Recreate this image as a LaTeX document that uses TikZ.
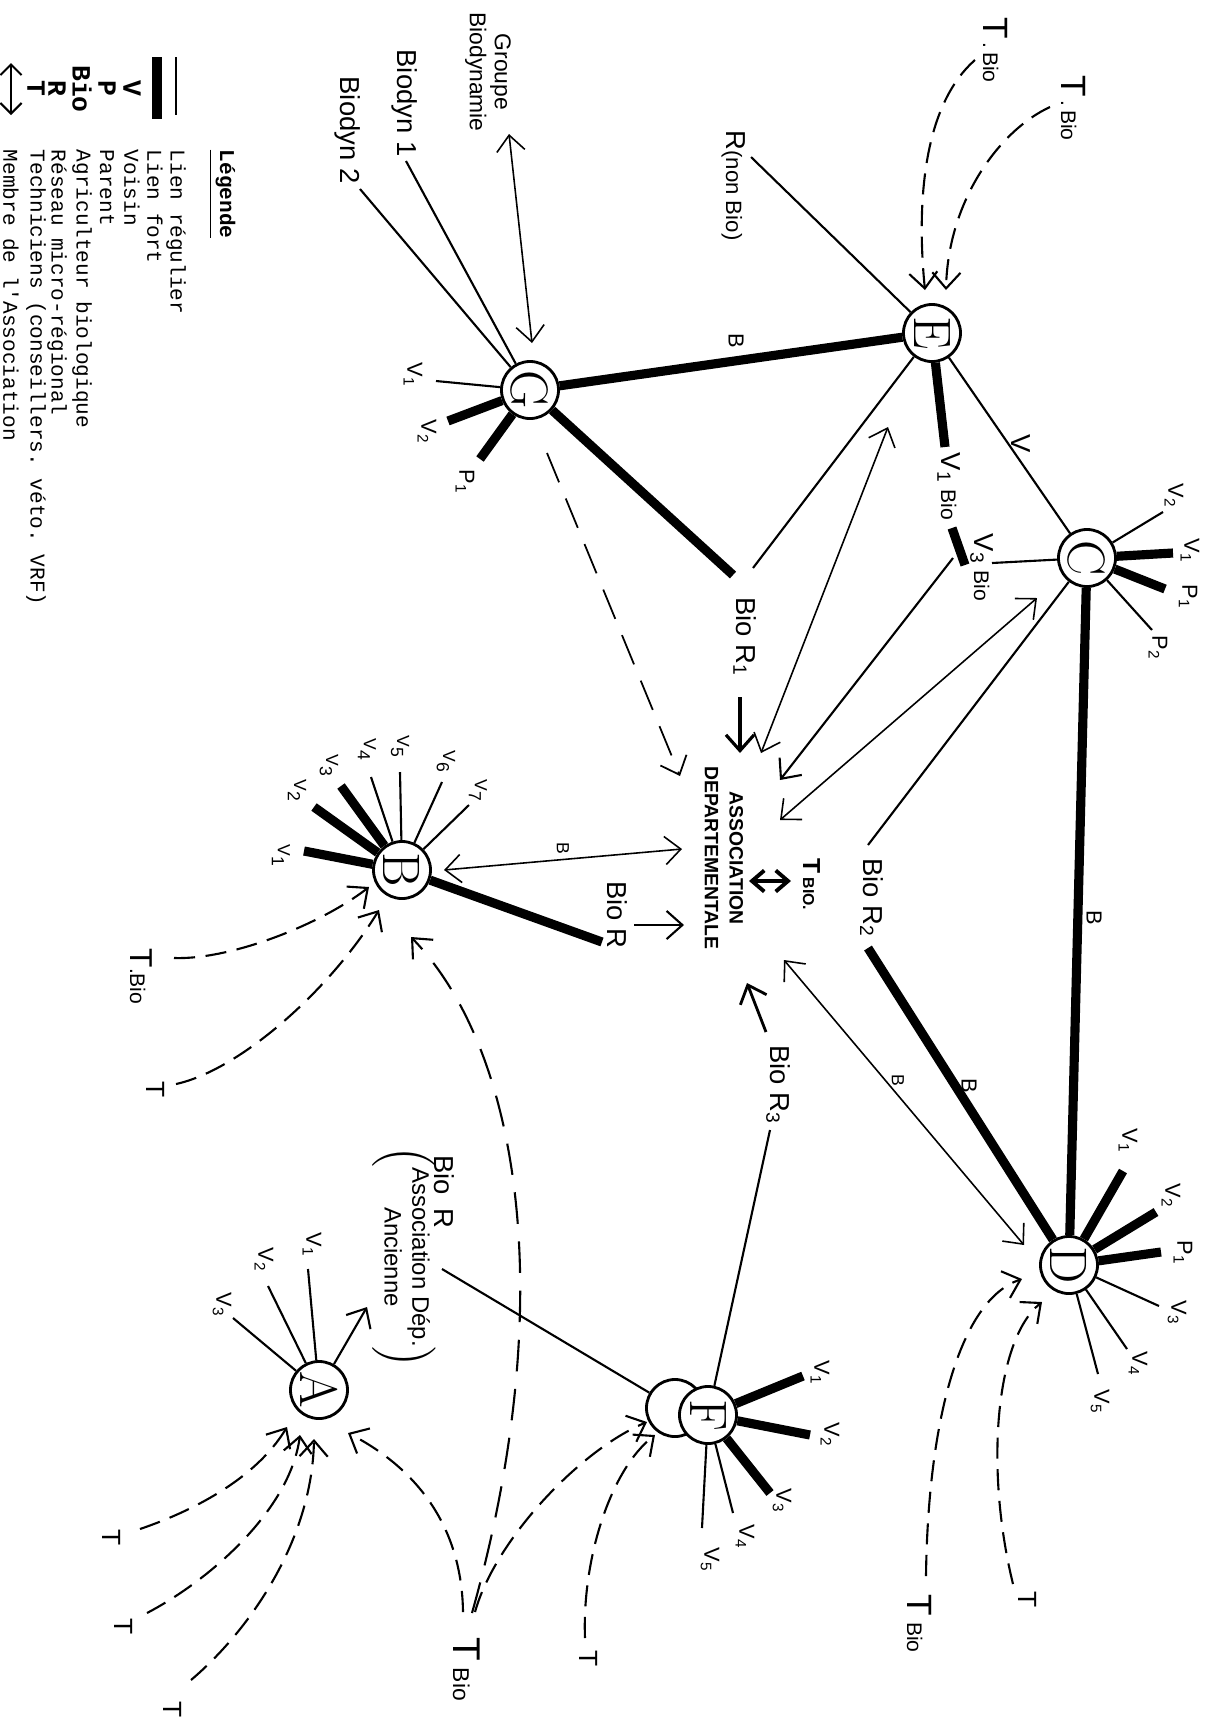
\documentclass[tikz,border=0pt]{standalone}
\usepackage{fontspec}
\setsansfont{Liberation Sans}
\setmonofont{Liberation Mono}
\usetikzlibrary{positioning, arrows.meta}

\tikzset{
  ferme/.style={circle, draw, fill=white, line width=0.8pt, minimum size=0.57cm,
    inner sep=0pt, font=\fontsize{15}{15}\selectfont, rotate=-90},
  etiq/.style={font=\sffamily\fontsize{7.8}{8.5}\selectfont, rotate=-90, inner sep=0pt},
  moyen/.style={font=\sffamily\fontsize{6.2}{7}\selectfont, rotate=-90, inner sep=0pt},
  petit/.style={font=\sffamily\fontsize{5}{6}\selectfont, rotate=-90, inner sep=0pt},
  tlab/.style={font=\sffamily\fontsize{7.5}{8}\selectfont, rotate=-90, inner sep=0pt},
  tgrand/.style={font=\sffamily\fontsize{10}{10}\selectfont, rotate=-90, inner sep=0pt, anchor=base west},
  legende/.style={font=\ttfamily\fontsize{6}{6}\selectfont, rotate=-90, inner sep=0pt, anchor=west},
  legsym/.style={font=\ttfamily\bfseries\fontsize{7.5}{7.5}\selectfont, rotate=-90, inner sep=0pt},
  lienreg/.style={line width=0.6pt},
  lienfort/.style={line width=2.6pt},
  pointe/.style={-{Straight Barb[length=4.5pt,width=8pt]}},
  membre/.style={line width=0.45pt, {Straight Barb[length=4.5pt,width=8pt]}-{Straight Barb[length=4.5pt,width=8pt]}},
  tech/.style={line width=0.6pt, dash pattern=on 6pt off 3pt, pointe},
}
\newcommand{\petitbio}{\fontsize{6}{6}\selectfont}

\begin{document}
\begin{tikzpicture}[x=0.01cm, y=-0.01cm]
\useasboundingbox (0,0) rectangle (1205,1720);

% legende
\node[legende, font=\ttfamily\bfseries\fontsize{6}{6}\selectfont] (leg) at (222,149) {\underline{Légende}};
\coordinate (lg1a) at (176,57); \coordinate (lg1b) at (176,115);
\coordinate (lg2a) at (157,57); \coordinate (lg2b) at (157,119);
\coordinate (lg3a) at (11,63); \coordinate (lg3b) at (11,115);
\draw[lienreg] (lg1a) -- (lg1b);
\draw[lienfort] (lg2a) -- (lg2b);
\draw[line width=0.6pt, {Straight Barb[length=3pt,width=6pt]}-{Straight Barb[length=3pt,width=6pt]}] (lg3a) -- (lg3b);
\node[legsym] (sV) at (132,88) {V};
\node[legsym] (sP) at (107,88) {P};
\node[legsym] (sBio) at (82,89) {Bio};
\node[legsym] (sR) at (57,88) {R};
\node[legsym] (sT) at (36,88) {T};
\node[legende] (dReg) at (176,149) {Lien régulier};
\node[legende] (dFort) at (155,149) {Lien fort};
\node[legende] (dV) at (132,149) {Voisin};
\node[legende] (dP) at (107,149) {Parent};
\node[legende] (dBio) at (82,149) {Agriculteur biologique};
\node[legende] (dR) at (57,149) {Réseau micro-régional};
\node[legende] (dT) at (36,149) {Techniciens (conseillers. véto. VRF)};
\node[legende] (dM) at (11,149) {Membre de l'Association};

% exploitations
\node[ferme] (E) at (932,333) {E};
\node[ferme] (C) at (1087,558) {C};
\node[ferme] (G) at (530,390) {G};
\node[ferme] (B) at (402,870) {B};
\node[ferme] (D) at (1069,1265) {D};
\node[ferme] (A) at (319,1390) {A};
\node[ferme] (Fb) at (675,1408) {};
\node[ferme] (F) at (708,1415) {F};

% association
\node[rotate=-90, align=center, font=\sffamily\bfseries\fontsize{5.5}{7.1}\selectfont, inner sep=0pt] (asso) at (724,858) {ASSOCIATION\\DEPARTEMENTALE};
\node[rotate=-90, anchor=base west, inner sep=0pt, font=\sffamily\bfseries] (tbio) at (803,858) {\fontsize{7}{7}\selectfont T\,\fontsize{4.5}{5}\selectfont BIO.};
\coordinate (mA) at (749,881); \coordinate (mB) at (791,881);
\draw[line width=1.1pt, {Straight Barb[length=3.5pt,width=6pt]}-{Straight Barb[length=3.5pt,width=6pt]}] (mA) -- (mB);

% E
\coordinate (eR) at (751,157);
\node[etiq, anchor=base west] (lR) at (726,130) {R{\fontsize{6.3}{6.3}\selectfont (non Bio)}};
\draw[lienreg] (E) -- (eR);
\coordinate (eV1) at (945,447);
\draw[lienfort] (E) -- (eV1);
\node[etiq, anchor=base west] (lEV1) at (941,452) {V\textsubscript{1}{\petitbio\ Bio}};
\coordinate (v13a) at (952,528); \coordinate (v13b) at (965,565);
\draw[lienfort] (v13a) -- (v13b);
\node[etiq, anchor=base west] (lEV3) at (974,533) {V\textsubscript{3}{\petitbio\ Bio}};
\draw[lienreg] (E) -- (C);
\node[etiq] (lV) at (1021,444) {V};
\draw[lienfort] (E) -- (G);
\node[moyen] (lGE) at (736,341) {B};
\coordinate (r1top) at (753,568);
\draw[lienreg] (E) -- (r1top);
\node[tgrand] (lTE1) at (983,17) {T{\petitbio\,.\,Bio}};
\node[tgrand] (lTE2) at (1061,75) {T{\petitbio\,.\,Bio}};
\coordinate (tE1s) at (975,60); \coordinate (tE1e) at (925,290);
\draw[tech] (tE1s) .. controls (918,110) and (918,220) .. (tE1e);
\coordinate (tE2s) at (1050,107); \coordinate (tE2e) at (946,290);
\draw[tech] (tE2s) .. controls (1000,130) and (948,200) .. (tE2e);

% C
\coordinate (cV3) at (992,563);
\draw[lienreg] (C) -- (cV3);
\coordinate (cV2) at (1163,512); \coordinate (cV1) at (1173,553);
\coordinate (cP1) at (1165,589); \coordinate (cP2) at (1152,630);
\draw[lienreg] (C) -- (cV2);
\draw[lienfort] (C) -- (cV1);
\draw[lienfort] (C) -- (cP1);
\draw[lienreg] (C) -- (cP2);
\node[moyen] (lcV2) at (1174,496) {V\textsubscript{2}};
\node[moyen] (lcV1) at (1190,551) {V\textsubscript{1}};
\node[moyen] (lcP1) at (1188,597) {P\textsubscript{1}};
\node[moyen] (lcP2) at (1158,648) {P\textsubscript{2}};
\draw[lienfort] (C) -- (D);
\node[moyen] (lCD) at (1094,918) {B};
\coordinate (r2top) at (868,845); \coordinate (r2bot) at (868,948);
\draw[lienreg] (C) -- (r2top);
\node[etiq] (lR2) at (872,898) {Bio R\textsubscript{2}};
\draw[lienfort] (r2bot) -- (D);
\node[moyen] (lR2D) at (969,1086) {B};

% fleches vers l'association
\coordinate (r1a) at (740,697); \coordinate (r1b) at (740,753);
\draw[line width=0.9pt, pointe] (r1a) -- (r1b);
\node[etiq] (lR1) at (745,637) {Bio R\textsubscript{1}};
\coordinate (eAs) at (888,427); \coordinate (aE) at (761,753);
\draw[membre] (eAs) -- (aE);
\coordinate (v3As) at (953,558); \coordinate (aV3) at (780,780);
\draw[lienreg, pointe] (v3As) -- (aV3);
\coordinate (cAs) at (1037,598); \coordinate (aC) at (780,820);
\draw[membre] (cAs) -- (aC);
\coordinate (dAs) at (1024,1245); \coordinate (aD) at (784,960);
\draw[membre] (dAs) -- (aD);
\node[petit] (lAD) at (898,1080) {B};
\coordinate (r3a) at (766,1032); \coordinate (r3b) at (747,983);
\draw[line width=0.8pt, pointe] (r3a) -- (r3b);
\node[etiq] (lR3) at (778,1085) {Bio R\textsubscript{3}};
\coordinate (r3bot) at (770,1130);
\draw[lienreg] (F) -- (r3bot);
\coordinate (gAs) at (547,453); \coordinate (aG) at (680,776);
\draw[line width=0.5pt, dash pattern=on 9pt off 5pt, pointe] (gAs) -- (aG);

% G
\coordinate (r1g) at (733,575);
\draw[lienfort] (G) -- (r1g);
\coordinate (gB1) at (406,161); \coordinate (gB2) at (360,189);
\draw[lienreg] (G) -- (gB1);
\draw[lienreg] (G) -- (gB2);
\node[etiq] (lB1) at (405,103) {Biodyn 1};
\node[etiq] (lB2) at (348,130) {Biodyn 2};
\coordinate (gGr) at (509,134); \coordinate (grG) at (532,343);
\draw[membre] (gGr) -- (grG);
\node[rotate=-90, align=center, inner sep=0pt, font=\sffamily\fontsize{6.5}{5.8}\selectfont] (lGr) at (488,72) {Groupe\\Biodynamie};
\coordinate (gV1) at (436,381); \coordinate (gV2) at (448,421); \coordinate (gP1) at (480,459);
\draw[lienreg] (G) -- (gV1);
\draw[lienfort] (G) -- (gV2);
\draw[lienfort] (G) -- (gP1);
\node[moyen] (lgV1) at (413,375) {V\textsubscript{1}};
\node[moyen] (lgV2) at (427,432) {V\textsubscript{2}};
\node[moyen] (lgP1) at (465,482) {P\textsubscript{1}};

% B
\coordinate (bAs) at (444,870); \coordinate (aB) at (682,849);
\draw[membre] (bAs) -- (aB);
\node[petit] (lBA) at (563,848) {B};
\coordinate (bR) at (602,942);
\draw[lienfort] (B) -- (bR);
\node[etiq] (lBR) at (617,915) {Bio R};
\coordinate (brA) at (634,925); \coordinate (brB) at (684,925);
\draw[lienreg, pointe] (brA) -- (brB);
\coordinate (bV1) at (304,851); \coordinate (bV2) at (314,807); \coordinate (bV3) at (341,786);
\coordinate (bV4) at (371,777); \coordinate (bV5) at (400,772); \coordinate (bV6) at (442,782);
\coordinate (bV7) at (469,805);
\draw[lienfort] (B) -- (bV1);
\draw[lienfort] (B) -- (bV2);
\draw[lienfort] (B) -- (bV3);
\draw[lienreg] (B) -- (bV4);
\draw[lienreg] (B) -- (bV5);
\draw[lienreg] (B) -- (bV6);
\draw[lienreg] (B) -- (bV7);
\node[petit] (lbV1) at (281,856) {V\textsubscript{1}};
\node[petit] (lbV2) at (297,791) {V\textsubscript{2}};
\node[petit] (lbV3) at (329,766) {V\textsubscript{3}};
\node[petit] (lbV4) at (367,750) {V\textsubscript{4}};
\node[petit] (lbV5) at (400,747) {V\textsubscript{5}};
\node[petit] (lbV6) at (446,762) {V\textsubscript{6}};
\node[petit] (lbV7) at (478,791) {V\textsubscript{7}};
\node[tgrand, font=\sffamily\fontsize{9}{9}\selectfont] (lTB1) at (130,948) {T{\petitbio.Bio}};
\node[tlab] (lTB2) at (156,1090) {T};
\coordinate (tB1s) at (174,958); \coordinate (tB1e) at (369,887);
\draw[tech] (tB1s) .. controls (230,960) and (320,925) .. (tB1e);
\coordinate (tB2s) at (176,1084); \coordinate (tB2e) at (379,910);
\draw[tech] (tB2s) .. controls (240,1070) and (330,990) .. (tB2e);
\coordinate (tBs) at (472,1613); \coordinate (tBe) at (411,937);
\draw[line width=0.6pt, dash pattern=on 9pt off 5pt, pointe] (tBs) .. controls (560,1300) and (520,1050) .. (tBe);

% D
\coordinate (dV1) at (1123,1171); \coordinate (dV2) at (1156,1212); \coordinate (dP1) at (1161,1252);
\coordinate (dV3) at (1159,1306); \coordinate (dV4) at (1127,1349); \coordinate (dV5) at (1098,1374);
\draw[lienfort] (D) -- (dV1);
\draw[lienfort] (D) -- (dV2);
\draw[lienfort] (D) -- (dP1);
\draw[lienreg] (D) -- (dV3);
\draw[lienreg] (D) -- (dV4);
\draw[lienreg] (D) -- (dV5);
\node[moyen] (ldV1) at (1128,1141) {V\textsubscript{1}};
\node[moyen] (ldV2) at (1171,1196) {V\textsubscript{2}};
\node[moyen] (ldP1) at (1183,1253) {P\textsubscript{1}};
\node[moyen] (ldV3) at (1177,1313) {V\textsubscript{3}};
\node[moyen] (ldV4) at (1138,1364) {V\textsubscript{4}};
\node[moyen] (ldV5) at (1100,1402) {V\textsubscript{5}};
\node[tgrand] (lTD1) at (907,1594) {T\,{\petitbio Bio}};
\node[tlab] (lTD2) at (1028,1600) {T};
\coordinate (tD1s) at (926,1576); \coordinate (tD1e) at (1022,1279);
\draw[tech] (tD1s) .. controls (928,1420) and (960,1300) .. (tD1e);
\coordinate (tD2s) at (1013,1584); \coordinate (tD2e) at (1042,1302);
\draw[tech] (tD2s) .. controls (985,1470) and (995,1340) .. (tD2e);

% F
\coordinate (fV1) at (803,1376); \coordinate (fV2) at (810,1435); \coordinate (fV3) at (770,1493);
\coordinate (fV4) at (733,1513); \coordinate (fV5) at (702,1528);
\draw[lienfort] (F) -- (fV1);
\draw[lienfort] (F) -- (fV2);
\draw[lienfort] (F) -- (fV3);
\draw[lienreg] (F) -- (fV4);
\draw[lienreg] (F) -- (fV5);
\node[moyen] (lfV1) at (820,1373) {V\textsubscript{1}};
\node[moyen] (lfV2) at (830,1435) {V\textsubscript{2}};
\node[moyen] (lfV3) at (782,1501) {V\textsubscript{3}};
\node[moyen] (lfV4) at (745,1537) {V\textsubscript{4}};
\node[moyen] (lfV5) at (710,1560) {V\textsubscript{5}};
\coordinate (fR) at (442,1269);
\draw[lienreg] (Fb) -- (fR);
\node[etiq] (lBioR) at (444,1192) {Bio\enspace R};
\node[rotate=-90, inner sep=0pt, font=\sffamily\fontsize{6.8}{7.9}\selectfont] (lAnc) at (404,1257)
  {\(\left(\begin{tabular}{@{}c@{}}Association Dép.\\Ancienne\end{tabular}\right)\)};
\node[tlab] (lTF) at (589,1659) {T};
\node[tgrand, font=\sffamily\fontsize{11}{11}\selectfont] (lTbio) at (453,1637) {T\,{\fontsize{6.5}{6.5}\selectfont Bio}};
\coordinate (tFs) at (475,1612); \coordinate (tFe) at (647,1422);
\draw[tech] (tFs) .. controls (495,1540) and (580,1450) .. (tFe);
\coordinate (tF2s) at (585,1638); \coordinate (tF2e) at (655,1435);
\draw[tech] (tF2s) .. controls (582,1560) and (610,1470) .. (tF2e);

% A
\coordinate (aV1) at (308,1269); \coordinate (aV2) at (268,1286); \coordinate (aV3) at (233,1318);
\coordinate (aOut) at (367,1307);
\draw[lienreg] (A) -- (aV1);
\draw[lienreg] (A) -- (aV2);
\draw[lienreg] (A) -- (aV3);
\draw[lienreg, pointe] (A) -- (aOut);
\node[moyen] (laV1) at (312,1245) {V\textsubscript{1}};
\node[moyen] (laV2) at (264,1260) {V\textsubscript{2}};
\node[moyen] (laV3) at (222,1305) {V\textsubscript{3}};
\node[tlab] (lTA1) at (112,1538) {T};
\node[tlab] (lTA2) at (124,1627) {T};
\node[tlab] (lTA3) at (173,1710) {T};
\coordinate (tA1s) at (140,1529); \coordinate (tA1e) at (287,1427);
\draw[tech] (tA1s) .. controls (190,1512) and (255,1480) .. (tA1e);
\coordinate (tA2s) at (147,1613); \coordinate (tA2e) at (300,1435);
\draw[tech] (tA2s) .. controls (210,1580) and (290,1510) .. (tA2e);
\coordinate (tA3s) at (191,1680); \coordinate (tA3e) at (314,1439);
\draw[tech] (tA3s) .. controls (250,1630) and (312,1540) .. (tA3e);
\coordinate (tA4s) at (463,1612); \coordinate (tA4e) at (348,1433);
\draw[tech] (tA4s) .. controls (462,1530) and (420,1470) .. (tA4e);
\end{tikzpicture}
\end{document}
